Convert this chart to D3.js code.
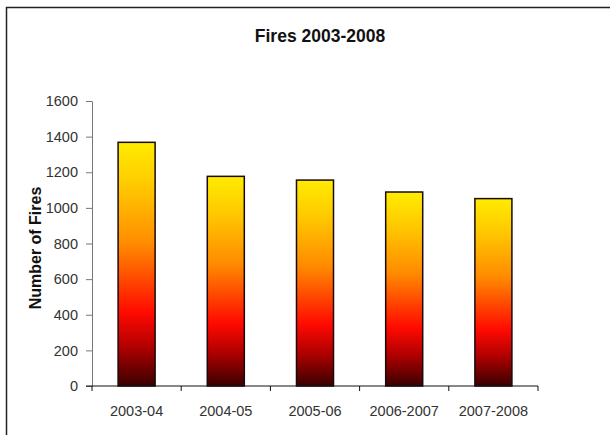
<!DOCTYPE html>
<html>
<head>
<meta charset="utf-8">
<script src="https://cdn.jsdelivr.net/npm/d3@7"></script>
<style>
  html, body { margin: 0; padding: 0; background: #fff; }
  svg { display: block; }
  text { font-family: "Liberation Sans", Arial, sans-serif; }
</style>
</head>
<body>
<svg id="chart" width="610" height="435"></svg>
<script>
// Fire counts per reporting year
const categories = ["2003-04", "2004-05", "2005-06", "2006-2007", "2007-2008"];
const fires = [1368, 1177, 1156, 1089, 1052];
const yTicks = [0, 200, 400, 600, 800, 1000, 1200, 1400, 1600];

const svg = d3.select("#chart");
const W = 610, H = 435;
const margin = { left: 92, right: 72, top: 101, bottom: 49 };
const plotW = W - margin.left - margin.right;
const plotH = H - margin.top - margin.bottom;

// Outer chart frame
svg.append("rect")
  .attr("x", 6.5).attr("y", 7.5)
  .attr("width", 620).attr("height", 440)
  .attr("fill", "#fff")
  .attr("stroke", "#222").attr("stroke-width", 1.5);

// Fire gradient, yellow at the top through orange and red to near-black
const defs = svg.append("defs");
const grad = defs.append("linearGradient")
  .attr("id", "fireGrad")
  .attr("x1", 0).attr("y1", 0).attr("x2", 0).attr("y2", 1);
[
  ["0%", "#ffec00"],
  ["18%", "#ffc800"],
  ["42%", "#ff8a00"],
  ["70%", "#ff0a00"],
  ["84%", "#b00000"],
  ["100%", "#3a0000"]
].forEach(([o, c]) => grad.append("stop").attr("offset", o).attr("stop-color", c));

const x = d3.scaleBand()
  .domain(categories)
  .range([0, plotW])
  .paddingInner(0.585)
  .paddingOuter(0.2925);

const y = d3.scaleLinear().domain([0, 1600]).range([plotH, 0]);

const g = svg.append("g").attr("transform", `translate(${margin.left},${margin.top})`);

// Bars
g.selectAll("rect.bar")
  .data(fires)
  .join("rect")
  .attr("class", "bar")
  .attr("x", (d, i) => x(categories[i]))
  .attr("y", d => y(d))
  .attr("width", x.bandwidth())
  .attr("height", d => plotH - y(d))
  .attr("fill", "url(#fireGrad)")
  .attr("stroke", "#1a0a0a")
  .attr("stroke-width", 1.5);

// Y axis
const yAxis = g.append("g")
  .call(d3.axisLeft(y).tickValues(yTicks).tickFormat(d3.format("d"))
    .tickSize(6).tickPadding(8).tickSizeOuter(0));
yAxis.select(".domain").attr("stroke", "#777");
yAxis.selectAll(".tick line").attr("stroke", "#777");
yAxis.selectAll(".tick text")
  .attr("font-size", 14.5).attr("fill", "#333")
  .attr("font-family", "'Liberation Sans', Arial, sans-serif");

// X axis with tick marks between categories
const xAxisG = g.append("g").attr("transform", `translate(0,${plotH})`);
xAxisG.append("line")
  .attr("x1", -6).attr("x2", plotW)
  .attr("stroke", "#111").attr("stroke-width", 1);
const boundaries = d3.range(categories.length + 1).map(i => i * plotW / categories.length);
xAxisG.selectAll("line.sep")
  .data(boundaries)
  .join("line")
  .attr("class", "sep")
  .attr("x1", d => d).attr("x2", d => d)
  .attr("y1", 0).attr("y2", 5)
  .attr("stroke", "#111");
xAxisG.selectAll("text.cat")
  .data(categories)
  .join("text")
  .attr("class", "cat")
  .attr("x", d => x(d) + x.bandwidth() / 2)
  .attr("y", 30)
  .attr("text-anchor", "middle")
  .attr("font-size", 14.5)
  .attr("fill", "#333")
  .text(d => d);

// Title
svg.append("text")
  .attr("x", 320).attr("y", 42)
  .attr("text-anchor", "middle")
  .attr("font-size", 17.5).attr("font-weight", "bold")
  .attr("fill", "#111")
  .text("Fires 2003-2008");

// Y axis title
svg.append("text")
  .attr("transform", `translate(41,248) rotate(-90)`)
  .attr("text-anchor", "middle")
  .attr("font-size", 16).attr("font-weight", "bold")
  .attr("fill", "#111")
  .text("Number of Fires");
</script>
</body>
</html>
